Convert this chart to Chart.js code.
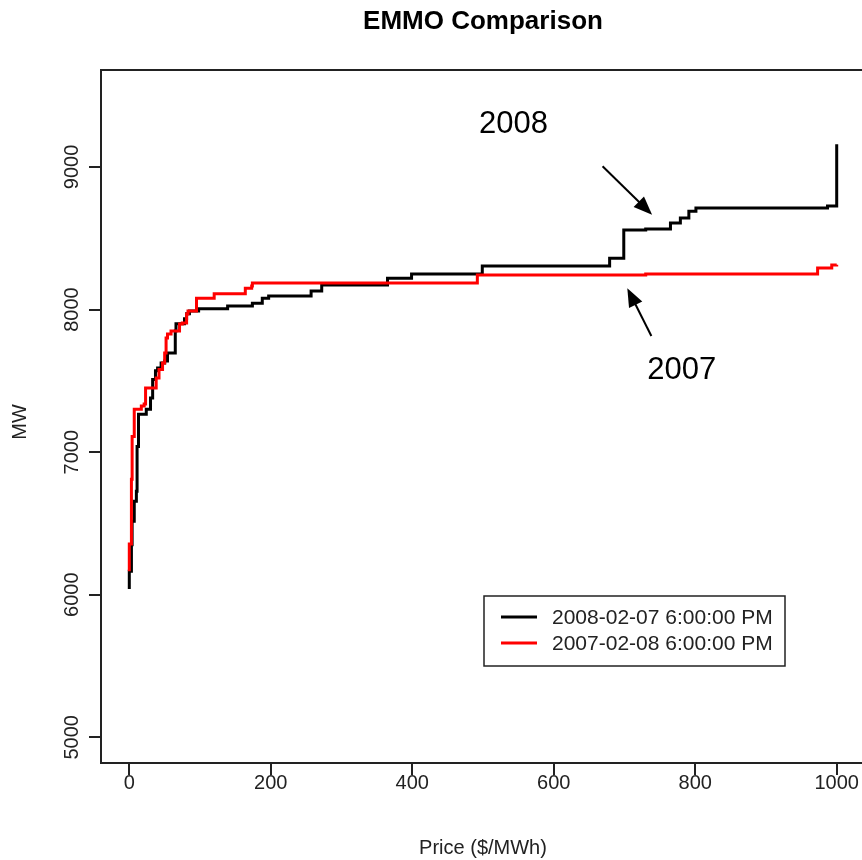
<!DOCTYPE html>
<html>
<head>
<meta charset="utf-8">
<title>EMMO Comparison</title>
<script src="https://cdn.jsdelivr.net/npm/chart.js@4.4.1/dist/chart.umd.min.js"></script>
<style>
  html, body { margin: 0; padding: 0; background: #fff; overflow: hidden; }
  #wrap { width: 870px; height: 860px; }
</style>
</head>
<body>
<div id="wrap"><canvas id="emmo"></canvas></div>
<script>
// 2008-02-07 6:00 PM offer stack (price $/MWh, cumulative MW)
const price2008 = [0, 0, 3, 4, 7, 10, 11, 13, 24, 30, 33, 37, 40, 45, 50, 54, 65, 66, 78, 81, 85, 98,
  139, 174, 188, 197, 257, 272, 365, 399, 499, 679, 699, 730, 765, 779, 791, 801, 987, 1000];
const mw2008 = [6040, 6165, 6350, 6515, 6655, 6725, 7040, 7265, 7300, 7380, 7510, 7570, 7590, 7625, 7640, 7695, 7850, 7900, 7935, 7970, 7990, 8005,
  8025, 8045, 8080, 8095, 8130, 8172, 8220, 8250, 8305, 8360, 8558, 8565, 8607, 8642, 8690, 8712, 8726, 9160];

// 2007-02-08 6:00 PM offer stack
const price2007 = [0, 0, 3, 4, 7, 17, 21, 23, 38, 42, 47, 50, 52, 54, 59, 71, 75, 81, 83, 95,
  120, 164, 173, 174, 492, 730, 973, 993, 1000];
const mw2007 = [6165, 6355, 6810, 7110, 7300, 7323, 7337, 7450, 7520, 7580, 7625, 7695, 7800, 7828, 7850, 7898, 7905, 7968, 7990, 8080,
  8110, 8150, 8165, 8186, 8242, 8249, 8291, 8312, 8315];

const seriesLabels = ['2008-02-07 6:00:00 PM', '2007-02-08 6:00:00 PM'];
const seriesColors = ['#000000', '#ff0000'];

const xTicks = [0, 200, 400, 600, 800, 1000];
const yTicks = [5000, 6000, 7000, 8000, 9000];

// year call-outs: text position and arrow (from -> to), in data units
const noteText = ['2008', '2007'];
const noteX = [543, 781];
const noteY = [9300, 7575];
const arrowFromX = [669, 738];
const arrowFromY = [9005, 7815];
const arrowToX = [739, 704];
const arrowToY = [8665, 8150];

const toPoints = (xs, ys) => xs.map((x, i) => ({ x: x, y: ys[i] }));

const FONT = '"Liberation Sans", Arial, Helvetica, sans-serif';
const INK = '#222';

// R-like extras: box, title, rotated y labels, annotations, legend
const rStyle = {
  id: 'rStyle',
  afterDraw(chart) {
    const { ctx, chartArea: a, scales } = chart;
    const sx = scales.x, sy = scales.y;
    ctx.save();

    // plot frame
    ctx.strokeStyle = INK;
    ctx.lineWidth = 2;
    ctx.strokeRect(a.left, a.top, a.right - a.left, a.bottom - a.top);

    // title
    ctx.fillStyle = '#000';
    ctx.font = 'bold 26px ' + FONT;
    ctx.textAlign = 'center';
    ctx.textBaseline = 'middle';
    ctx.fillText('EMMO Comparison', (a.left + a.right) / 2, 22);

    // y tick labels, rotated like R's las = 0
    ctx.fillStyle = INK;
    ctx.font = '20px ' + FONT;
    yTicks.forEach(v => {
      ctx.save();
      ctx.translate(72, sy.getPixelForValue(v));
      ctx.rotate(-Math.PI / 2);
      ctx.fillText(String(v), 0, 0);
      ctx.restore();
    });

    // axis titles
    ctx.save();
    ctx.translate(20, 422);
    ctx.rotate(-Math.PI / 2);
    ctx.fillText('MW', 0, 0);
    ctx.restore();
    ctx.fillText('Price ($/MWh)', (a.left + a.right) / 2, 848);

    // year call-outs
    ctx.fillStyle = '#000';
    ctx.font = '31px ' + FONT;
    noteText.forEach((t, i) => {
      ctx.fillText(t, sx.getPixelForValue(noteX[i]), sy.getPixelForValue(noteY[i]));
      const x0 = sx.getPixelForValue(arrowFromX[i]), y0 = sy.getPixelForValue(arrowFromY[i]);
      const x1 = sx.getPixelForValue(arrowToX[i]), y1 = sy.getPixelForValue(arrowToY[i]);
      const ang = Math.atan2(y1 - y0, x1 - x0);
      const len = 20, spread = 0.38;
      ctx.strokeStyle = '#000';
      ctx.lineWidth = 2;
      ctx.beginPath();
      ctx.moveTo(x0, y0);
      ctx.lineTo(x1 - Math.cos(ang) * len * 0.8, y1 - Math.sin(ang) * len * 0.8);
      ctx.stroke();
      ctx.beginPath();
      ctx.moveTo(x1, y1);
      ctx.lineTo(x1 - len * Math.cos(ang - spread), y1 - len * Math.sin(ang - spread));
      ctx.lineTo(x1 - len * Math.cos(ang + spread), y1 - len * Math.sin(ang + spread));
      ctx.closePath();
      ctx.fill();
    });

    // legend
    const lx = 484, ly = 596, lw = 301, lh = 70;
    ctx.fillStyle = '#fff';
    ctx.fillRect(lx, ly, lw, lh);
    ctx.strokeStyle = INK;
    ctx.lineWidth = 1.5;
    ctx.strokeRect(lx, ly, lw, lh);
    ctx.font = '21px ' + FONT;
    ctx.textAlign = 'left';
    seriesLabels.forEach((lab, i) => {
      const yy = ly + 21 + i * 26;
      ctx.strokeStyle = seriesColors[i];
      ctx.lineWidth = 3;
      ctx.beginPath();
      ctx.moveTo(lx + 17, yy);
      ctx.lineTo(lx + 53, yy);
      ctx.stroke();
      ctx.fillStyle = INK;
      ctx.fillText(lab, lx + 68, yy + 1);
    });

    ctx.restore();
  }
};

new Chart(document.getElementById('emmo'), {
  type: 'line',
  data: {
    datasets: [
      {
        label: seriesLabels[0],
        data: toPoints(price2008, mw2008),
        borderColor: seriesColors[0],
        borderWidth: 3,
        stepped: true,
        pointRadius: 0,
        fill: false,
        order: 2
      },
      {
        label: seriesLabels[1],
        data: toPoints(price2007, mw2007),
        borderColor: seriesColors[1],
        borderWidth: 3,
        stepped: true,
        pointRadius: 0,
        fill: false,
        order: 1
      }
    ]
  },
  options: {
    responsive: true,
    maintainAspectRatio: false,
    animation: false,
    layout: { padding: { top: 70, right: 5, bottom: 0, left: 0 } },
    plugins: {
      legend: { display: false },
      tooltip: { enabled: false },
      title: { display: false }
    },
    scales: {
      x: {
        type: 'linear',
        min: -40,
        max: 1040,
        afterBuildTicks: s => { s.ticks = xTicks.map(v => ({ value: v })); },
        afterFit: s => { s.height = 97; },
        grid: { drawOnChartArea: false, drawTicks: true, tickLength: 12, lineWidth: 2, color: INK },
        border: { display: true, width: 2, color: INK },
        ticks: {
          color: INK, padding: -4, maxRotation: 0,
          font: { family: FONT, size: 20 },
          callback: v => String(v)
        }
      },
      y: {
        type: 'linear',
        min: 4820,
        max: 9680,
        afterBuildTicks: s => { s.ticks = yTicks.map(v => ({ value: v })); },
        afterFit: s => { s.width = 101; },
        grid: { drawOnChartArea: false, drawTicks: true, tickLength: 12, lineWidth: 2, color: INK },
        border: { display: true, width: 2, color: INK },
        ticks: { display: false }
      }
    }
  },
  plugins: [rStyle]
});
</script>
</body>
</html>
